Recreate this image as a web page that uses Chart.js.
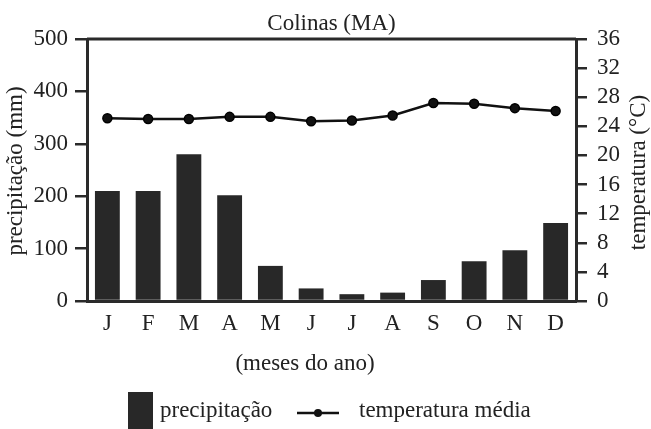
<!DOCTYPE html>
<html><head><meta charset="utf-8">
<script src="https://cdn.jsdelivr.net/npm/chart.js@4.4.0/dist/chart.umd.min.js"></script>
<style>html,body{margin:0;padding:0;background:#fff;}</style>
</head><body>
<canvas id="c" width="651" height="429" style="width:651px;height:429px;display:block"></canvas>
<script>
const months = ['J','F','M','A','M','J','J','A','S','O','N','D'];
const precipitation = [210, 210, 280, 202, 67, 24, 13, 16, 40, 76, 97, 149];
const temperature = [25.1, 25.0, 25.0, 25.3, 25.3, 24.7, 24.8, 25.5, 27.2, 27.1, 26.5, 26.1];
const precipTicks = [0, 100, 200, 300, 400, 500];
const tempTicks = [0, 4, 8, 12, 16, 20, 24, 28, 32, 36];
const chartTitle = 'Colinas (MA)';
const xTitle = '(meses do ano)';
const yLeftTitle = 'precipitação (mm)';
const yRightTitle = 'temperatura (°C)';
const legendLabels = ['precipitação', 'temperatura média'];

const FONT = '"Liberation Serif", "Times New Roman", serif';
const INK = '#2a2a2a';
const TXT = '#222';

const decor = {
  id: 'decor',
  afterDraw(chart) {
    const ctx = chart.ctx, a = chart.chartArea;
    ctx.save();
    // top border
    ctx.strokeStyle = INK; ctx.lineWidth = 3;
    ctx.beginPath(); ctx.moveTo(a.left, a.top); ctx.lineTo(a.right, a.top); ctx.stroke();
    ctx.fillStyle = TXT;
    ctx.font = '23px ' + FONT;
    ctx.textBaseline = 'alphabetic';
    // title
    ctx.textAlign = 'center';
    ctx.fillText(chartTitle, 331.5, 30);
    // x title
    ctx.fillText(xTitle, 305, 370);
    // y titles
    ctx.save(); ctx.translate(22, 171); ctx.rotate(-Math.PI / 2);
    ctx.fillText(yLeftTitle, 0, 0); ctx.restore();
    ctx.save(); ctx.translate(645, 172.5); ctx.rotate(-Math.PI / 2);
    ctx.fillText(yRightTitle, 0, 0); ctx.restore();
    // legend
    ctx.fillStyle = '#282828';
    ctx.fillRect(128, 392, 25, 37);
    ctx.fillStyle = TXT; ctx.textAlign = 'left';
    ctx.fillText(legendLabels[0], 160, 417);
    ctx.strokeStyle = '#111'; ctx.lineWidth = 2.5;
    ctx.beginPath(); ctx.moveTo(297, 413); ctx.lineTo(339, 413); ctx.stroke();
    ctx.fillStyle = '#111';
    ctx.beginPath(); ctx.arc(318, 413, 4, 0, Math.PI * 2); ctx.fill();
    ctx.fillStyle = TXT;
    ctx.fillText(legendLabels[1], 359, 417);
    ctx.restore();
  }
};

new Chart(document.getElementById('c'), {
  data: {
    labels: months,
    datasets: [
      {
        type: 'line', label: legendLabels[1], data: temperature, yAxisID: 'y1', order: 0,
        borderColor: '#111', borderWidth: 2.5, pointRadius: 4.5, pointBackgroundColor: '#111',
        pointBorderColor: '#000', pointBorderWidth: 1.5, tension: 0
      },
      {
        type: 'bar', label: legendLabels[0], data: precipitation, yAxisID: 'y', order: 1,
        backgroundColor: '#282828', barPercentage: 0.61, categoryPercentage: 1
      }
    ]
  },
  options: {
    responsive: false, animation: false,
    layout: { padding: { left: 0, right: 0, top: 39, bottom: 50 } },
    plugins: { legend: { display: false }, title: { display: false }, tooltip: { enabled: false } },
    scales: {
      x: {
        type: 'category',
        afterFit(s) { s.height = 78; },
        grid: { display: false, drawTicks: false },
        border: { display: true, color: INK, width: 3 },
        ticks: { color: TXT, padding: 9, font: { family: FONT, size: 23 }, maxRotation: 0, autoSkip: false }
      },
      y: {
        position: 'left', min: 0, max: 500,
        afterFit(s) { s.width = 87; },
        afterBuildTicks(s) { s.ticks = precipTicks.map(v => ({ value: v })); },
        grid: { drawOnChartArea: false, drawTicks: true, tickLength: 12, color: INK, lineWidth: 2.5 },
        border: { display: true, color: INK, width: 3 },
        ticks: { color: TXT, padding: 7, autoSkip: false, font: { family: FONT, size: 23 } }
      },
      y1: {
        position: 'right', min: 0, max: 36,
        afterFit(s) { s.width = 75; },
        afterBuildTicks(s) { s.ticks = tempTicks.map(v => ({ value: v })); },
        grid: { drawOnChartArea: false, drawTicks: true, tickLength: 11, color: INK, lineWidth: 2.5 },
        border: { display: true, color: INK, width: 3 },
        ticks: { color: TXT, padding: 10, autoSkip: false, font: { family: FONT, size: 23 } }
      }
    }
  },
  plugins: [decor]
});
</script>
</body></html>
